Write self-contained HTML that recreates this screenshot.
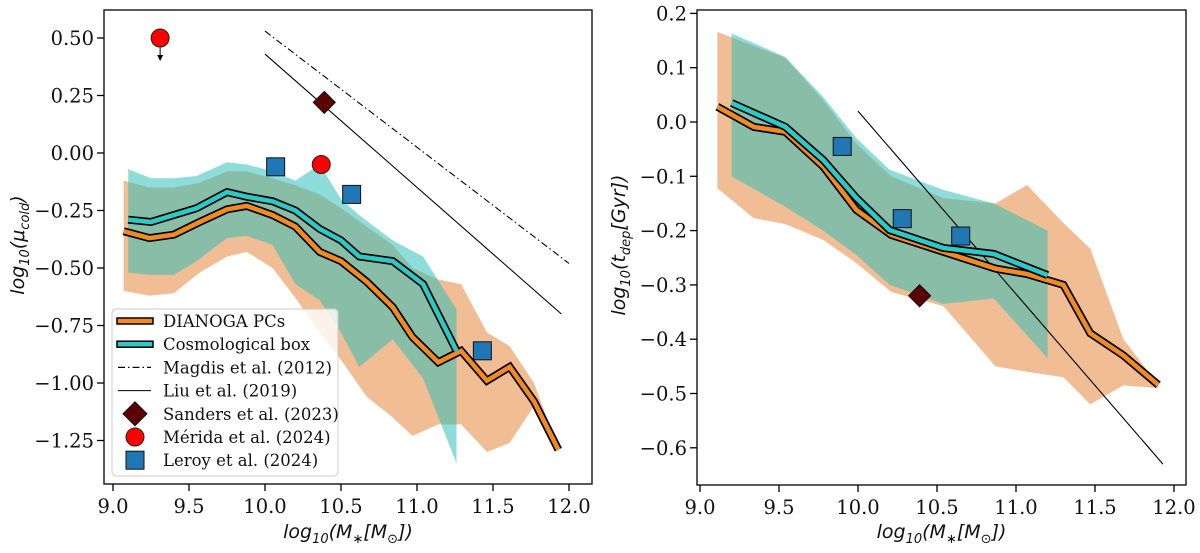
<!DOCTYPE html>
<html><head><meta charset="utf-8"><style>
body{margin:0;background:#fff}
svg text{font-family:"DejaVu Serif","Liberation Serif",serif;fill:#111}
.ax{font-family:"DejaVu Sans","Liberation Sans",sans-serif;font-style:italic}
</style></head><body>
<svg id="c" width="1200" height="548" xmlns="http://www.w3.org/2000/svg"></svg>
<script>
// ---- left panel data ----
const orX=[9.07,9.24,9.4,9.57,9.75,9.88,10.05,10.2,10.36,10.5,10.67,10.84,10.97,11.14,11.29,11.46,11.61,11.77,11.93];
const orLine=[-0.34,-0.37,-0.355,-0.30,-0.245,-0.23,-0.27,-0.32,-0.43,-0.47,-0.56,-0.67,-0.80,-0.91,-0.86,-0.99,-0.93,-1.08,-1.29];
const orUp=[-0.12,-0.15,-0.15,-0.13,-0.08,-0.08,-0.11,-0.14,-0.18,-0.24,-0.32,-0.40,-0.50,-0.55,-0.57,-0.78,-0.84,-1.0,-1.29];
const orLo=[-0.60,-0.62,-0.61,-0.52,-0.45,-0.43,-0.50,-0.63,-0.78,-0.90,-1.06,-1.15,-1.23,-1.18,-1.18,-1.30,-1.26,-1.10,-1.29];
const tlX=[9.1,9.25,9.4,9.55,9.75,9.88,10.05,10.2,10.36,10.5,10.62,10.84,11.04,11.26];
const tlLine=[-0.29,-0.30,-0.27,-0.24,-0.17,-0.19,-0.21,-0.25,-0.33,-0.38,-0.45,-0.47,-0.57,-0.86];
const tlUp=[-0.07,-0.11,-0.11,-0.10,-0.04,-0.05,-0.08,-0.12,-0.05,-0.20,-0.27,-0.38,-0.45,-0.68];
const tlLo=[-0.52,-0.53,-0.53,-0.47,-0.37,-0.36,-0.40,-0.57,-0.64,-0.78,-0.93,-0.81,-0.98,-1.35];
const LxTicks=[9.0,9.5,10.0,10.5,11.0,11.5,12.0];
const LyTicks=[0.5,0.25,0,-0.25,-0.5,-0.75,-1.0,-1.25];
const LyTickLabels=["0.50","0.25","0.00","\u22120.25","\u22120.50","\u22120.75","\u22121.00","\u22121.25"];
const Lsanders=[[10.39,0.22]];
const Lmerida=[[9.31,0.50],[10.37,-0.05]];
const Lleroy=[[10.07,-0.06],[10.57,-0.18],[11.43,-0.86]];
const Lmagdis=[[10.0,0.53],[12.0,-0.48]];
const Lliu=[[10.0,0.43],[11.95,-0.70]];
// ---- right panel data ----
const rOrX=[9.11,9.34,9.54,9.78,9.99,10.21,10.54,10.87,11.07,11.30,11.47,11.68,11.90];
const rOrLine=[0.028,-0.009,-0.018,-0.082,-0.162,-0.208,-0.239,-0.27,-0.28,-0.30,-0.389,-0.43,-0.484];
const rOrUp=[0.166,0.14,0.118,0.04,-0.04,-0.10,-0.14,-0.15,-0.116,-0.186,-0.233,-0.40,-0.484];
const rOrLo=[-0.122,-0.177,-0.188,-0.217,-0.26,-0.313,-0.339,-0.45,-0.46,-0.47,-0.52,-0.485,-0.49];
const rTlX=[9.2,9.54,9.78,9.99,10.2,10.54,10.86,11.2];
const rTlLine=[0.035,-0.009,-0.07,-0.14,-0.199,-0.232,-0.243,-0.282];
const rTlUp=[0.163,0.12,0.046,-0.03,-0.088,-0.125,-0.15,-0.20];
const rTlLo=[-0.10,-0.156,-0.20,-0.245,-0.30,-0.335,-0.325,-0.435];
const RxTicks=[9.0,9.5,10.0,10.5,11.0,11.5,12.0];
const RyTicks=[0.2,0.1,0,-0.1,-0.2,-0.3,-0.4,-0.5,-0.6];
const RyTickLabels=["0.2","0.1","0.0","\u22120.1","\u22120.2","\u22120.3","\u22120.4","\u22120.5","\u22120.6"];
const Rsanders=[[10.39,-0.32]];
const Rleroy=[[9.9,-0.045],[10.28,-0.178],[10.65,-0.21]];
const Rliu=[[10.0,0.02],[11.93,-0.63]];

const NS="http://www.w3.org/2000/svg";
const svg=document.getElementById('c');
function mk(t,a,p){const e=document.createElementNS(NS,t);for(const k in a)e.setAttribute(k,a[k]);(p||svg).appendChild(e);return e;}

function panel(cfg){
  const g=mk('g',{});
  
  
  const X=v=>cfg.x0+(v-9)*cfg.xs, Y=v=>cfg.y0-v*cfg.ys;
  const band=(xs,up,lo,fill,nm)=>{
    let pts=xs.map((x,i)=>X(x)+','+Y(up[i]));
    for(let i=xs.length-1;i>=0;i--)pts.push(X(xs[i])+','+Y(lo[i]));
    const p=mk('polygon',{points:pts.join(' '),fill:fill},g);
    
    
  };
  band(cfg.oX,cfg.oUp,cfg.oLo,'rgba(226,128,50,0.52)','orange-band');
  band(cfg.tX,cfg.tUp,cfg.tLo,'rgba(40,190,185,0.52)','teal-band');
  const line=(pts,attrs,nm)=>{const l=mk('polyline',Object.assign({points:pts.map(p=>X(p[0])+','+Y(p[1])).join(' '),fill:'none'},attrs),g);
    
    };
  if(cfg.magdis)line(cfg.magdis,{stroke:'#000','stroke-width':1.1,'stroke-dasharray':'7,3,1.5,3'},'magdis-line');
  line(cfg.liu,{stroke:'#000','stroke-width':1.1},'liu-line');
  const thick=(xs,ys,col,nm)=>{const pts=xs.map((x,i)=>[x,ys[i]]);
    line(pts,{stroke:'#000','stroke-width':8,'stroke-linejoin':'miter'},nm+'-outline');
    line(pts,{stroke:col,'stroke-width':4.6,'stroke-linejoin':'miter'},nm);};
  thick(cfg.oX,cfg.oLine,'#f28a24','dianoga-line');
  thick(cfg.tX,cfg.tLine,'#2ec9c6','cosmo-line');
  (cfg.merida||[]).forEach((p,i)=>{
    if(i===0){const a=mk('line',{x1:X(p[0]),y1:Y(p[1]),x2:X(p[0]),y2:Y(p[1])+22,stroke:'#000','stroke-width':1},g);
      
      
      const h=mk('polygon',{points:`${X(p[0])-3},${Y(p[1])+17} ${X(p[0])+3},${Y(p[1])+17} ${X(p[0])},${Y(p[1])+23}`,fill:'#000'},g);
      
      }
    const c=mk('circle',{cx:X(p[0]),cy:Y(p[1]),r:9,fill:'#ff0000',stroke:'#222','stroke-width':1},g);
    
    
  });
  cfg.sanders.forEach(p=>{const x=X(p[0]),y=Y(p[1]);
    const d=mk('polygon',{points:`${x},${y-11} ${x+11},${y} ${x},${y+11} ${x-11},${y}`,fill:'#5c0000',stroke:'#111','stroke-width':1},g);
    
    });
  cfg.leroy.forEach(p=>{const x=X(p[0]),y=Y(p[1]);
    const r=mk('rect',{x:x-9,y:y-9,width:18,height:18,fill:'#1f77b4',stroke:'#111','stroke-width':1},g);
    
    });
  const f=mk('rect',{x:cfg.bx,y:10,width:cfg.bw,height:cfg.bb-10,fill:'none',stroke:'#000','stroke-width':1.3},g);
  
  
  cfg.xt.forEach(v=>{const x=X(v);
    mk('line',{x1:x,x2:x,y1:cfg.bb,y2:cfg.bb+7,stroke:'#000','stroke-width':1.3},g);
    const t=mk('text',{x:x,y:cfg.bb+29,'text-anchor':'middle','font-size':19.5},g);t.textContent=v.toFixed(1);
    
    });
  cfg.yt.forEach((v,i)=>{const y=Y(v);
    mk('line',{x1:cfg.bx-7,x2:cfg.bx,y1:y,y2:y,stroke:'#000','stroke-width':1.3},g);
    const t=mk('text',{x:cfg.bx-10,y:y+7,'text-anchor':'end','font-size':19.5},g);t.textContent=cfg.ytl[i];
    
    });
  const xl=mk('text',{x:cfg.bx+cfg.bw/2,y:538,'text-anchor':'middle','font-size':19,class:'ax'},g);
  xl.innerHTML='log<tspan font-size="13" dy="5">10</tspan><tspan dy="-5">(M</tspan><tspan font-size="13" dy="5">∗</tspan><tspan dy="-5">[M</tspan><tspan font-size="13" dy="5">⊙</tspan><tspan dy="-5">])</tspan>';
  
  
  const yl=mk('text',{x:0,y:0,'text-anchor':'middle','font-size':19,class:'ax',transform:`translate(${cfg.ylx},${cfg.yly}) rotate(-90)`},g);
  yl.innerHTML=cfg.ylab;
  
  
}
panel({name:'left-panel',x0:113,xs:152,y0:153,ys:230,bx:104,bw:488,bb:484,
  oX:orX,oLine:orLine,oUp:orUp,oLo:orLo,tX:tlX,tLine:tlLine,tUp:tlUp,tLo:tlLo,
  magdis:Lmagdis,liu:Lliu,merida:Lmerida,sanders:Lsanders,leroy:Lleroy,
  xt:LxTicks,yt:LyTicks,ytl:LyTickLabels,ylx:24,yly:245,
  ylab:'log<tspan font-size="13" dy="5">10</tspan><tspan dy="-5">(μ</tspan><tspan font-size="13" dy="5">cold</tspan><tspan dy="-5">)</tspan>'});
panel({name:'right-panel',x0:700,xs:158,y0:122,ys:543,bx:697,bw:489,bb:485,
  oX:rOrX,oLine:rOrLine,oUp:rOrUp,oLo:rOrLo,tX:rTlX,tLine:rTlLine,tUp:rTlUp,tLo:rTlLo,
  liu:Rliu,sanders:Rsanders,leroy:Rleroy,
  xt:RxTicks,yt:RyTicks,ytl:RyTickLabels,ylx:625,yly:245,
  ylab:'log<tspan font-size="13" dy="5">10</tspan><tspan dy="-5">(t</tspan><tspan font-size="13" dy="5">dep</tspan><tspan dy="-5">[Gyr])</tspan>'});

const lg=mk('g',{});


mk('rect',{x:112,y:309,width:226,height:167,rx:4,fill:'rgba(255,255,255,0.8)',stroke:'#ccc','stroke-width':1},lg);
const names=['DIANOGA PCs','Cosmological box','Magdis et al. (2012)','Liu et al. (2019)','Sanders et al. (2023)','Mérida et al. (2024)','Leroy et al. (2024)'];
names.forEach((n,i)=>{const y=321+i*23.2;
  const e=mk('g',{},lg);
  
  
  if(i<2){mk('rect',{x:117,y:y-3,width:36,height:6,fill:i?'#2ec9c6':'#f28a24',stroke:'#000','stroke-width':1.5},e);}
  else if(i===2)mk('line',{x1:118,x2:151,y1:y,y2:y,stroke:'#000','stroke-width':1.2,'stroke-dasharray':'7,3,1.5,3'},e);
  else if(i===3)mk('line',{x1:118,x2:151,y1:y,y2:y,stroke:'#000','stroke-width':1},e);
  else if(i===4)mk('polygon',{points:`135,${y-12} 147,${y} 135,${y+12} 123,${y}`,fill:'#5c0000',stroke:'#111'},e);
  else if(i===5)mk('circle',{cx:135,cy:y,r:9,fill:'#f00',stroke:'#222'},e);
  else mk('rect',{x:126,y:y-9,width:18,height:18,fill:'#1f77b4',stroke:'#111'},e);
  const t=mk('text',{x:163,y:y+6,'font-size':16.5},e);t.textContent=n;
});
</script>
</body></html>
